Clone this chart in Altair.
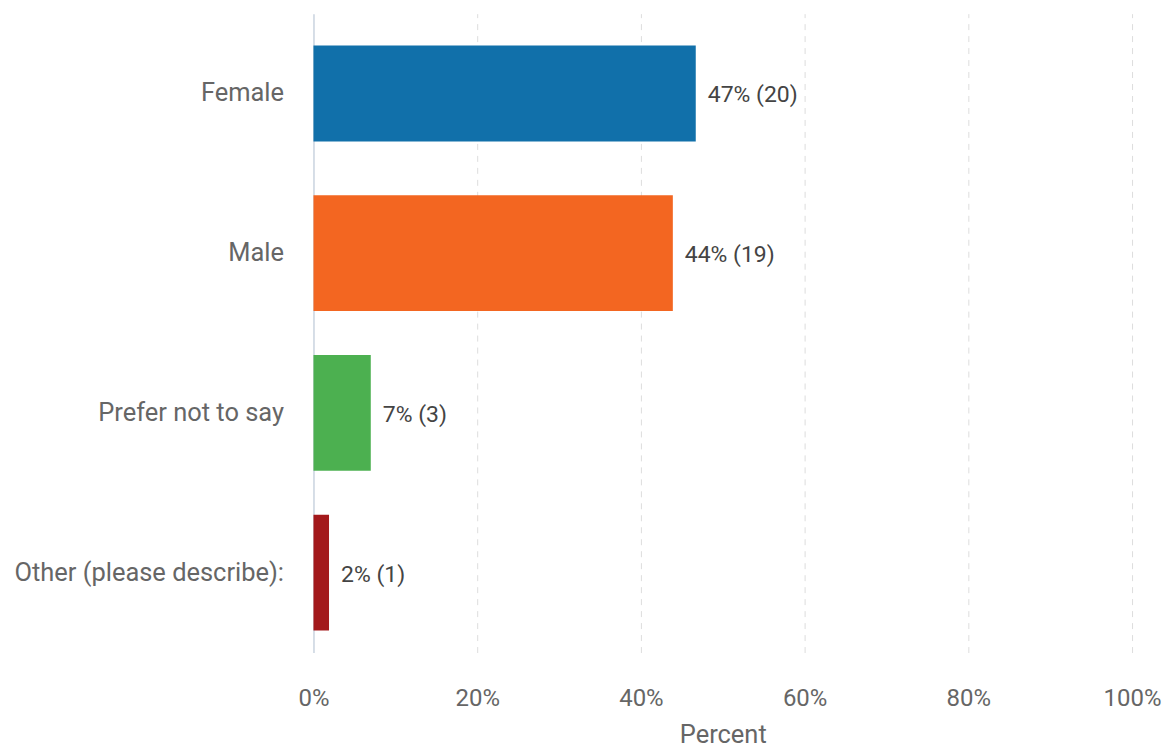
import altair as alt
import pandas as pd

categories = ["Female", "Male", "Prefer not to say", "Other (please describe):"]
percents = [46.7, 43.9, 7.0, 1.9]
counts = [20, 19, 3, 1]
labels = ["47% (20)", "44% (19)", "7% (3)", "2% (1)"]
colors = ["#1170aa", "#f36621", "#4cb050", "#a3191b"]

df = pd.DataFrame({"category": categories, "percent": percents, "count": counts, "label": labels})

y_enc = alt.Y("category:N", sort=categories,
              scale=alt.Scale(paddingInner=0.275, paddingOuter=0.1375),
              axis=alt.Axis(title=None, labelFontSize=25.5, labelColor="#666666", labelFont="Roboto",
                            labelPadding=30, labelLimit=400, ticks=False, domain=True,
                            domainColor="#c9d3df", domainWidth=1.5, grid=False))
x_enc = alt.X("percent:Q", scale=alt.Scale(domain=[0, 100]),
              axis=alt.Axis(title="Percent", titleFontSize=25.5, titleColor="#666666", titleFont="Roboto",
                            titleFontWeight="normal", titlePadding=12,
                            values=[0, 20, 40, 60, 80, 100], labelExpr="datum.value + '%'",
                            labelFontSize=24, labelColor="#666666", labelFont="Roboto", labelPadding=34,
                            labelAlign="center", labelFlush=False,
                            ticks=False, domain=False, grid=True, gridColor="#dddddd",
                            gridDash=[6, 6], gridWidth=1,
                            gridOpacity=alt.condition("datum.value == 0", alt.value(0), alt.value(1))))

base = alt.Chart(df)

bars = base.mark_bar().encode(
    y=y_enc,
    x=x_enc,
    color=alt.Color("category:N", scale=alt.Scale(domain=categories, range=colors), legend=None),
    size=alt.condition("datum.category == 'Female'", alt.value(96), alt.value(116)),
)

text = base.mark_text(align="left", baseline="middle", dx=12, dy=2, fontSize=23, font="Roboto",
                      color="#444444").encode(
    y=alt.Y("category:N", sort=categories),
    x=alt.X("percent:Q"),
    text="label:N",
)

chart = (bars + text).properties(width=820, height=640).configure_view(stroke=None)

chart.save("out.html", embed_options={"renderer": "svg", "actions": False})
